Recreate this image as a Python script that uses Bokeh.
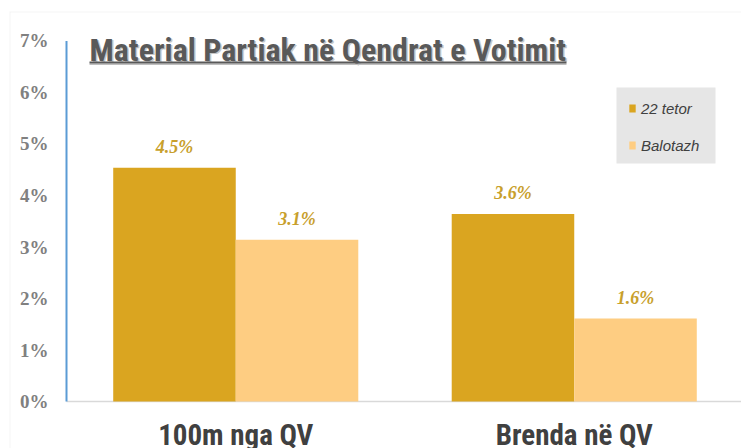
from bokeh.plotting import figure
from bokeh.models import (ColumnDataSource, Range1d, FixedTicker, NumeralTickFormatter,
                          Label, BoxAnnotation, Legend, LegendItem)
from bokeh.transform import dodge
from bokeh.core.properties import value
from bokeh.embed import file_html
from bokeh.resources import INLINE

# ---- data ----
categories = ["100m nga QV", "Brenda në QV"]
series_names = ["22 tetor", "Balotazh"]
tetor_22 = [0.0454, 0.0364]
balotazh = [0.0314, 0.0161]
y_ticks = [0.0, 0.01, 0.02, 0.03, 0.04, 0.05, 0.06, 0.07]
title_text = "Material Partiak në Qendrat e Votimit"

dark = "#DAA520"
light = "#FECD82"
label_color = "#C8A02C"
narrow = "'Roboto Condensed', 'DejaVu Sans Condensed', sans-serif"

cat_x = [i + 0.5 for i in range(len(categories))]
x_origin = 0.0
src = ColumnDataSource(dict(
    x=cat_x,
    tetor=tetor_22,
    balot=balotazh,
    tetor_lbl=[f"{v*100:.1f}%" for v in tetor_22],
    balot_lbl=[f"{v*100:.1f}%" for v in balotazh],
))

W, H = 741, 448
p = figure(width=W, height=H,
           x_range=Range1d(-0.1684, 1.9941), y_range=Range1d(-0.009126, 0.075728),
           output_backend="svg", toolbar_location=None,
           min_border_left=9, min_border_right=0, min_border_top=11, min_border_bottom=0)
p.outline_line_color = None
p.grid.visible = False
p.background_fill_color = "white"
p.border_fill_color = "white"

# x axis (drawn at y = 0)
xa = p.xaxis[0]
xa.ticker = FixedTicker(ticks=cat_x)
xa.major_label_overrides = {x: c for x, c in zip(cat_x, categories)}
xa.fixed_location = 0
xa.major_tick_line_color = None
xa.minor_tick_line_color = None
xa.axis_line_color = None
xa.major_label_standoff = 10
xa.major_label_text_font = narrow
xa.major_label_text_font_style = "bold"
xa.major_label_text_font_size = "29px"
xa.major_label_text_color = "#404040"

# y axis (drawn at the category origin)
ya = p.yaxis[0]
ya.ticker = FixedTicker(ticks=y_ticks)
ya.formatter = NumeralTickFormatter(format="0%")
ya.fixed_location = x_origin
ya.axis_line_color = None
ya.major_tick_line_color = None
ya.minor_tick_line_color = None
ya.major_label_standoff = 12
ya.major_label_text_font = "Liberation Serif"
ya.major_label_text_font_style = "bold"
ya.major_label_text_font_size = "19px"
ya.major_label_text_color = "#808080"

# chart border (only top/left visible)
p.add_layout(BoxAnnotation(left=0, right=2000, bottom=-500, top=H - 11,
                           left_units="screen", right_units="screen",
                           bottom_units="screen", top_units="screen",
                           fill_color=None, line_color="#D9D9D9", line_width=2))

# baseline and blue vertical axis line
p.segment(x0=[x_origin], y0=[0], x1=[p.x_range.end], y1=[0],
          line_color="#D9D9D9", line_width=1.5)
p.segment(x0=[x_origin], y0=[y_ticks[0]], x1=[x_origin], y1=[y_ticks[-1]],
          line_color="#5B9BD5", line_width=2)

w = 0.362
r1 = p.vbar(x=dodge("x", -w / 2, range=p.x_range), top="tetor", width=w, source=src,
            fill_color=dark, line_color=None)
r2 = p.vbar(x=dodge("x", w / 2, range=p.x_range), top="balot", width=w, source=src,
            fill_color=light, line_color=None)

for col, lbl, off in (("tetor", "tetor_lbl", -w / 2), ("balot", "balot_lbl", w / 2)):
    p.text(x=dodge("x", off, range=p.x_range), y=col, text=lbl, source=src,
           text_align="center", text_baseline="middle", y_offset=-21,
           text_font=value("Liberation Serif"), text_font_style="bold italic",
           text_font_size="18px", text_color=label_color)

# title with shadow and underline (screen units from frame bottom-left)
tx, ty = 80, 399
p.add_layout(Label(x=tx + 1.5, y=ty - 1.5, x_units="screen", y_units="screen", text=title_text,
                   text_font=narrow, text_font_style="bold", text_font_size="32px",
                   text_color="#C8C8C8", text_baseline="alphabetic"))
p.add_layout(Label(x=tx, y=ty, x_units="screen", y_units="screen", text=title_text,
                   text_font=narrow, text_font_style="bold", text_font_size="32px",
                   text_color="#595959", text_baseline="alphabetic"))
p.add_layout(BoxAnnotation(left=tx, right=tx + 477, bottom=383.5, top=385,
                           left_units="screen", right_units="screen",
                           bottom_units="screen", top_units="screen",
                           fill_color="#BFBFBF", fill_alpha=1, line_color=None))
p.add_layout(BoxAnnotation(left=tx, right=tx + 477, bottom=385, top=387,
                           left_units="screen", right_units="screen",
                           bottom_units="screen", top_units="screen",
                           fill_color="#595959", fill_alpha=1, line_color=None))

# legend box and legend
p.add_layout(BoxAnnotation(left=607, right=706, bottom=285, top=361,
                           left_units="screen", right_units="screen",
                           bottom_units="screen", top_units="screen",
                           fill_color="#E6E6E6", fill_alpha=1, line_color=None))
legend = Legend(items=[LegendItem(label=series_names[0], renderers=[r1]),
                       LegendItem(label=series_names[1], renderers=[r2])],
                location=(619, 293), orientation="vertical")
legend.background_fill_alpha = 0
legend.border_line_color = None
legend.padding = 0
legend.margin = 0
legend.spacing = 17
legend.glyph_width = 8
legend.glyph_height = 10
legend.label_height = 20
legend.label_standoff = 5
legend.label_text_font = "Liberation Sans"
legend.label_text_font_style = "italic"
legend.label_text_font_size = "15px"
legend.label_text_color = "#404040"
p.add_layout(legend)

open("out.html", "w").write(file_html(p, INLINE))
